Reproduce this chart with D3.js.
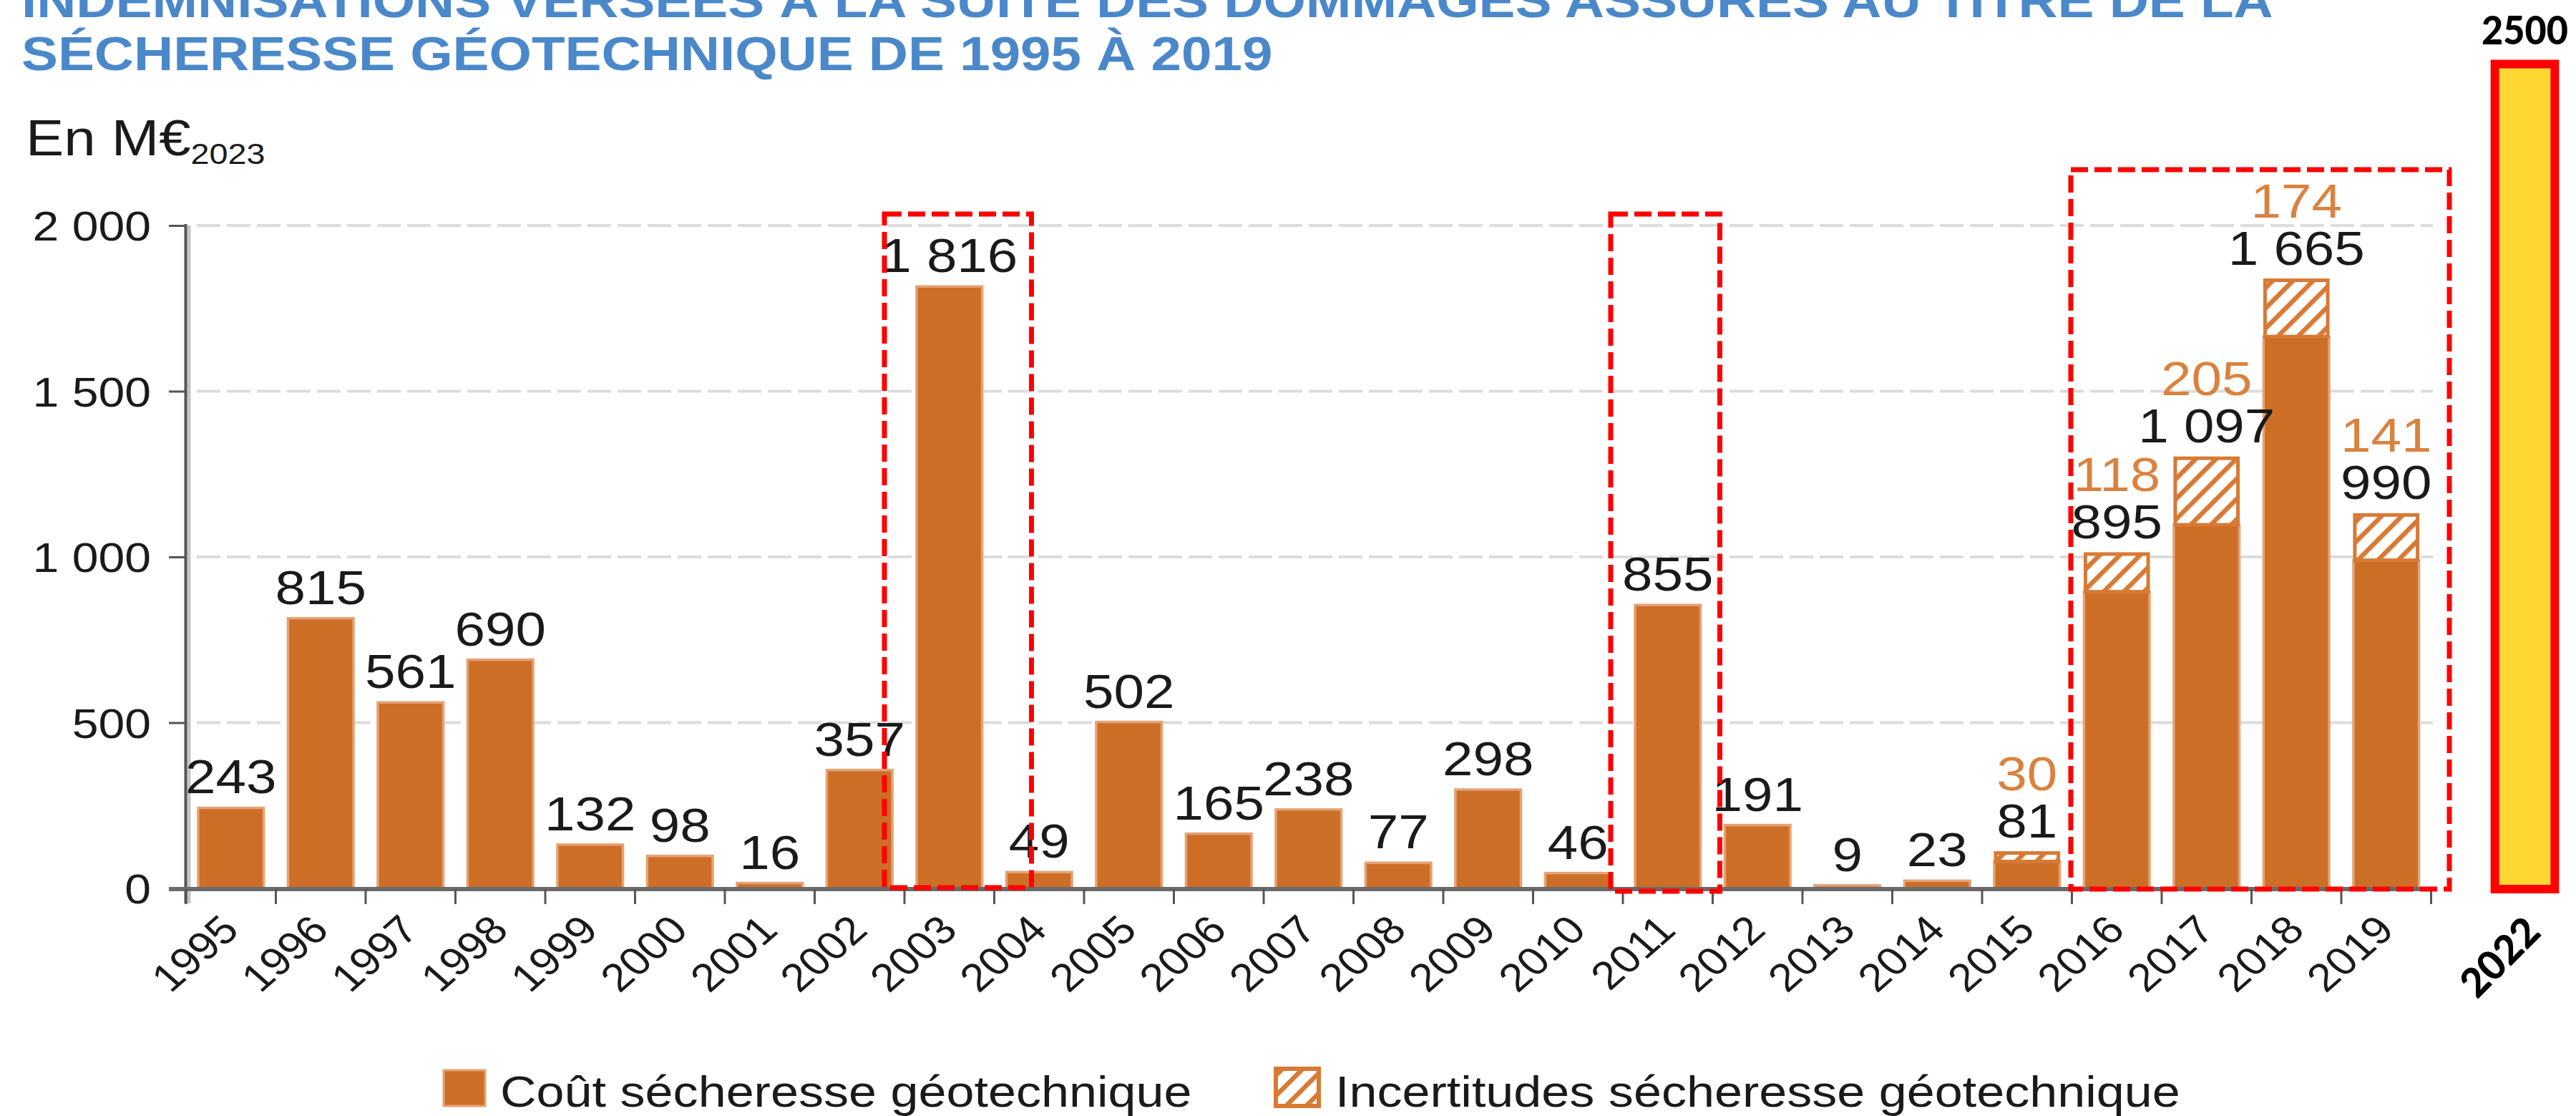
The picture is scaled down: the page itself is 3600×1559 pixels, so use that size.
<!DOCTYPE html>
<html><head><meta charset="utf-8">
<script src="https://cdn.jsdelivr.net/npm/d3@7/dist/d3.min.js"></script>
<style>
html,body{margin:0;padding:0;background:#fff;}
svg{display:block;}
</style></head>
<body><div id="chart"></div>
<script>
// ---------- DATA ----------
const years = ["1995","1996","1997","1998","1999","2000","2001","2002","2003","2004","2005","2006","2007","2008","2009","2010","2011","2012","2013","2014","2015","2016","2017","2018","2019"];
const cost = [243,815,561,690,132,98,16,357,1816,49,502,165,238,77,298,46,855,191,9,23,81,895,1097,1665,990];
const uncertainty = [0,0,0,0,0,0,0,0,0,0,0,0,0,0,0,0,0,0,0,0,30,118,205,174,141];
const yTicks = [0,500,1000,1500,2000];
const extraYears = ["2022"];
const extraValues = [2500];
const titleLines = ["INDEMNISATIONS VERSÉES À LA SUITE DES DOMMAGES ASSURÉS AU TITRE DE LA","SÉCHERESSE GÉOTECHNIQUE DE 1995 À 2019"];
const unitLabel = "En M€";
const unitSub = "2023";
const legendLabels = ["Coût sécheresse géotechnique","Incertitudes sécheresse géotechnique"];
const highlightFrom = ["2003","2011","2016"];
const highlightTo = ["2003","2011","2019"];

// ---------- SETUP ----------
const W = 3600, H = 1559, SX = 1.14;
const FONT = "'Liberation Sans', Arial, Helvetica, sans-serif";
const BAR = "#CD6E27", BAR_EDGE = "#E6A274", HATCH = "#D77A35", ORANGE_TXT = "#D9823F", INK = "#1a1a1a";
const fmt = d3.formatLocale({decimal:",", thousands:" ", grouping:[3], currency:["","€"]}).format(",d");

const svg = d3.select("#chart").append("svg").attr("width", W).attr("height", H)
  .style("background", "#fff");

const defs = svg.append("defs");
const pat = defs.append("pattern").attr("id","hatch").attr("patternUnits","userSpaceOnUse")
  .attr("width",20).attr("height",20).attr("patternTransform","rotate(45)");
pat.append("rect").attr("width",20).attr("height",20).attr("fill","#fff");
pat.append("rect").attr("x",0).attr("width",6.5).attr("height",20).attr("fill",HATCH);

const x = d3.scaleBand().domain(years).range([260, 3397.5]).paddingInner(0.27).paddingOuter(0.135);
const y = d3.scaleLinear().domain([0,2000]).range([1241, 315]);
const step = x.step();
const bnd = d => x(d) - (step - x.bandwidth())/2;   // left boundary of the category slot

function stext(g, tx, ty, str, size, opts = {}) {
  return g.append("text")
    .attr("transform", `translate(${tx},${ty}) scale(${opts.sx ?? SX},1)` + (opts.rot ? ` rotate(${opts.rot})` : ""))
    .attr("font-family", opts.family || FONT)
    .attr("font-size", size)
    .attr("font-weight", opts.weight || "normal")
    .attr("fill", opts.fill || INK)
    .attr("text-anchor", opts.anchor || "start")
    .text(str);
}

// ---------- TITLE ----------
const tg = svg.append("g");
titleLines.forEach((s,i) => stext(tg, 30, 24 + i*74, s, 67, {weight:"bold", fill:"#4A88CA"}));

// unit label
const ut = tg.append("text").attr("transform", `translate(36,217) scale(${SX},1)`)
  .attr("font-family", FONT).attr("font-size", 70).attr("fill", INK);
ut.append("tspan").text(unitLabel);
ut.append("tspan").attr("font-size", 41).attr("dy", 12).text(unitSub);

// ---------- GRID ----------
svg.append("g").selectAll("line").data(yTicks.filter(v => v > 0)).join("line")
  .attr("x1", 275).attr("x2", 3400).attr("y1", d => y(d)).attr("y2", d => y(d))
  .attr("stroke", "#dcdcdc").attr("stroke-width", 4).attr("stroke-dasharray", "33,9");

// ---------- BARS ----------
const bars = svg.append("g");
bars.selectAll("rect.cost").data(years).join("rect").attr("class","cost")
  .attr("x", d => x(d)).attr("width", x.bandwidth())
  .attr("y", (d,i) => y(cost[i])).attr("height", (d,i) => y(0) - y(cost[i]))
  .attr("fill", BAR).attr("stroke", BAR_EDGE).attr("stroke-width", 3.5);

bars.selectAll("rect.unc").data(years.filter((d,i) => uncertainty[i] > 0)).join("rect").attr("class","unc")
  .attr("x", d => x(d) + 2).attr("width", x.bandwidth() - 4)
  .attr("y", d => { const i = years.indexOf(d); return y(cost[i] + uncertainty[i]) + 2; })
  .attr("height", d => { const i = years.indexOf(d); return y(cost[i]) - y(cost[i] + uncertainty[i]) - 2; })
  .attr("fill", "url(#hatch)").attr("stroke", HATCH).attr("stroke-width", 5);

// ---------- AXES ----------
const ax = svg.append("g");
ax.append("line").attr("x1", 264).attr("x2", 264).attr("y1", y(2000)).attr("y2", 1262)
  .attr("stroke", "#c4c4c4").attr("stroke-width", 5);
ax.append("line").attr("x1", 259.5).attr("x2", 259.5).attr("y1", y(2000) - 2).attr("y2", 1262)
  .attr("stroke", "#555").attr("stroke-width", 4);
const yAxis = d3.axisLeft(y).tickValues(yTicks).tickSize(24).tickPadding(25).tickFormat(fmt);
const yg = ax.append("g").attr("transform", "translate(260,0)").call(yAxis);
yg.select(".domain").remove();
yg.selectAll(".tick line").attr("stroke", "#555").attr("stroke-width", 3);
yg.selectAll(".tick text")
  .attr("x", -49 / SX).attr("transform", `scale(${SX},1)`)
  .attr("font-family", FONT).attr("font-size", 58).attr("fill", INK).attr("dy", "0.36em");

ax.append("line").attr("x1", 236).attr("x2", x.range()[1] + 1).attr("y1", 1242).attr("y2", 1242)
  .attr("stroke", "#6a6a6a").attr("stroke-width", 6);
const bounds = years.map(bnd).concat([bnd(years[years.length-1]) + step]);
ax.selectAll("line.xt").data(bounds).join("line").attr("class","xt")
  .attr("x1", d => d).attr("x2", d => d).attr("y1", 1242).attr("y2", 1263)
  .attr("stroke", "#555").attr("stroke-width", 3);

const xl = svg.append("g");
years.forEach(d => stext(xl, x(d) + x.bandwidth()/2 + 14, 1302, d, 55, {anchor:"end", rot:-45}));

// ---------- VALUE LABELS ----------
const lab = svg.append("g");
years.forEach((d,i) => {
  const cx = x(d) + x.bandwidth()/2;
  const top = y(cost[i] + uncertainty[i]);
  stext(lab, cx, top - 20, fmt(cost[i]), 67, {anchor:"middle"});
  if (uncertainty[i] > 0) stext(lab, cx, top - 86, fmt(uncertainty[i]), 67, {anchor:"middle", fill: ORANGE_TXT});
});

// ---------- 2022 BAR ----------
const eg = svg.append("g");
const ex = d3.scaleBand().domain(extraYears).range([3470, 3587]).padding(0.1);
extraYears.forEach((d,i) => {
  eg.append("rect").attr("x", ex(d) + 6).attr("width", ex.bandwidth() - 12)
    .attr("y", y(extraValues[i]) + 6).attr("height", y(0) + 1 - (y(extraValues[i]) + 6))
    .attr("fill", "#FFD732").attr("stroke", "#FF0000").attr("stroke-width", 12);
  eg.append("text").attr("transform", `translate(${ex(d) + ex.bandwidth()/2},62) scale(0.93,1)`)
    .attr("text-anchor", "middle").attr("font-family", "Lato, 'Open Sans', sans-serif")
    .attr("font-weight", 900).attr("font-size", 56).attr("fill", "#000").text(String(extraValues[i]));
  eg.append("text").attr("transform", `translate(${ex(d) + ex.bandwidth()/2 + 25},1305) rotate(-45)`)
    .attr("text-anchor", "end").attr("font-family", "Lato, 'Open Sans', sans-serif")
    .attr("font-weight", 900).attr("font-size", 56).attr("fill", "#000").text(d);
});

// ---------- HIGHLIGHT BOXES ----------
const boxSpec = [
  {padL: 28, padR: 52, top: 299, bottom: 1240},
  {padL: 17, padR: 10, top: 299, bottom: 1245},
  {padL: 1.5, padR: 25.5, top: 237, bottom: 1242}
];
const hb = svg.append("g");
highlightFrom.forEach((f,i) => {
  const s = boxSpec[i];
  const x0 = bnd(f) - s.padL, x1 = bnd(highlightTo[i]) + step + s.padR;
  hb.append("rect").attr("x", x0).attr("y", s.top).attr("width", x1 - x0).attr("height", s.bottom - s.top)
    .attr("fill", "none").attr("stroke", "#FF0000").attr("stroke-width", 7).attr("stroke-dasharray", "24,9");
});

// ---------- LEGEND ----------
const lg = svg.append("g");
lg.append("rect").attr("x", 620).attr("y", 1495).attr("width", 58).attr("height", 50)
  .attr("fill", BAR).attr("stroke", BAR_EDGE).attr("stroke-width", 3);
stext(lg, 699, 1546, legendLabels[0], 61.5);
lg.append("rect").attr("x", 1783).attr("y", 1493).attr("width", 60).attr("height", 52)
  .attr("fill", "url(#hatch)").attr("stroke", HATCH).attr("stroke-width", 6);
stext(lg, 1866, 1546, legendLabels[1], 61.5);
</script>
</body></html>
